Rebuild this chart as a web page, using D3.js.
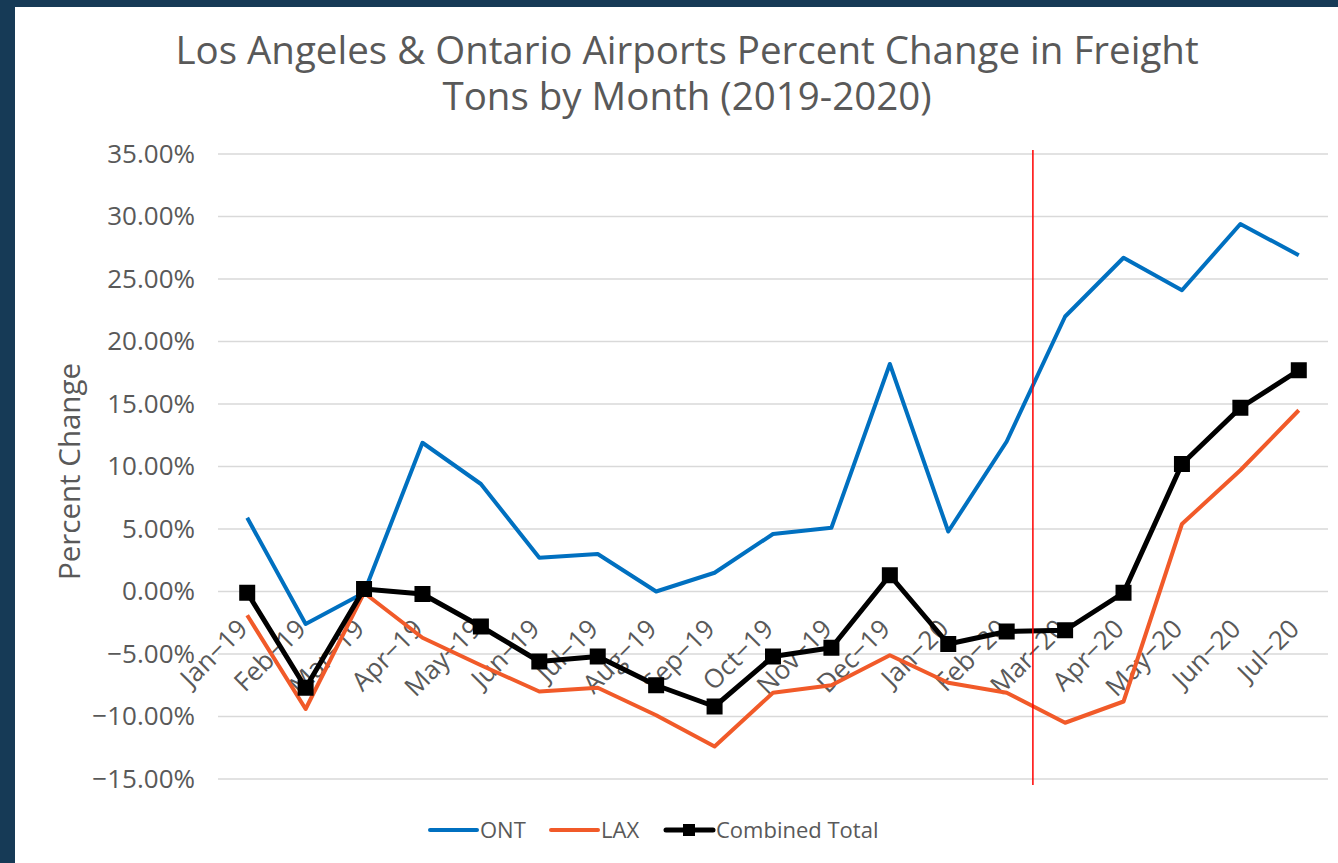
<!DOCTYPE html>
<html>
<head>
<meta charset="utf-8">
<script src="https://cdn.jsdelivr.net/npm/d3@7"></script>
<style>
  html, body { margin: 0; padding: 0; background: #163a56; }
  #chart-container { position: absolute; left: 15px; top: 7px; width: 1323px; height: 856px; background: #fff; }
  svg { display: block; font-family: "Open Sans", sans-serif; }
</style>
</head>
<body>
<div id="chart-container"></div>
<script>
const months = ["Jan-19", "Feb-19", "Mar-19", "Apr-19", "May-19", "Jun-19", "Jul-19", "Aug-19", "Sep-19",
  "Oct-19", "Nov-19", "Dec-19", "Jan-20", "Feb-20", "Mar-20", "Apr-20", "May-20", "Jun-20", "Jul-20"];
const ont = [5.9, -2.6, -0.1, 11.9, 8.6, 2.7, 3.0, 0.0, 1.5, 4.6, 5.1, 18.2, 4.8, 12.0, 22.0, 26.7, 24.1, 29.4, 26.9];
const lax = [-1.9, -9.4, -0.1, -3.7, -5.9, -8.0, -7.7, -9.9, -12.4, -8.1, -7.5, -5.1, -7.3, -8.1, -10.5, -8.8, 5.4, 9.7, 14.5];
const combined = [-0.1, -7.7, 0.2, -0.2, -2.8, -5.6, -5.2, -7.5, -9.2, -5.2, -4.5, 1.3, -4.2, -3.2, -3.1, -0.1, 10.2, 14.7, 17.7];
const yTicks = [-15, -10, -5, 0, 5, 10, 15, 20, 25, 30, 35];
const markerMonth = "Mar-20";

const series = [
  { name: "ONT", values: ont, color: "#0070c0", width: 4, marker: false },
  { name: "LAX", values: lax, color: "#f15a29", width: 4, marker: false },
  { name: "Combined Total", values: combined, color: "#000000", width: 5, marker: true },
];

function chart() {
  const margin = { top: 147, right: 10, bottom: 84, left: 203 };
  const width = 1323 - margin.left - margin.right;
  const height = 856 - margin.top - margin.bottom;
  const textColor = "#595959";

  const root = d3.select("#chart-container").append("svg")
    .attr("width", 1323).attr("height", 856);

  root.append("text")
    .attr("x", 672).attr("y", 57)
    .attr("text-anchor", "middle")
    .attr("fill", textColor)
    .style("font-size", "38.5px")
    .selectAll("tspan")
    .data(["Los Angeles & Ontario Airports Percent Change in Freight", "Tons by Month (2019-2020)"])
    .join("tspan")
    .attr("x", 672)
    .attr("dy", (d, i) => (i ? 46 : 0))
    .text(d => d);

  const svg = root.append("g").attr("transform", `translate(${margin.left},${margin.top})`);

  const x = d3.scaleBand().domain(months).range([0, width]);
  const y = d3.scaleLinear().domain([-15, 35]).range([height, 0]);
  const cx = d => x(d) + x.bandwidth() / 2;

  // grid
  svg.append("g").selectAll("line").data(yTicks).join("line")
    .attr("x1", 0).attr("x2", width)
    .attr("y1", d => y(d)).attr("y2", d => y(d))
    .attr("stroke", "#d9d9d9").attr("stroke-width", 1.5);

  const yAxis = svg.append("g").call(
    d3.axisLeft(y).tickValues(yTicks).tickSize(0).tickPadding(23)
      .tickFormat(d => (d < 0 ? "\u2212" : "") + Math.abs(d).toFixed(2) + "%")
  );
  yAxis.select(".domain").remove();
  yAxis.selectAll("text").attr("fill", textColor).style("font-size", "26px")
    .style("font-family", "Open Sans, sans-serif");

  root.append("text")
    .attr("transform", `translate(${margin.left - 138},${margin.top + height / 2 + 5}) rotate(-90)`)
    .attr("text-anchor", "middle")
    .attr("fill", textColor)
    .style("font-size", "29.5px")
    .text("Percent Change");

  // x labels hang from the zero line
  svg.append("g").selectAll("text").data(months).join("text")
    .attr("transform", d => `translate(${cx(d) + 2},${y(0) + 39}) rotate(-45)`)
    .attr("text-anchor", "end")
    .attr("fill", textColor)
    .style("font-size", "26px")
    .text(d => d.replace("-", "\u2212"));

  const line = d3.line().x((d, i) => cx(months[i])).y(d => y(d));

  series.forEach(s => {
    svg.append("path").datum(s.values)
      .attr("fill", "none")
      .attr("stroke", s.color)
      .attr("stroke-width", s.width)
      .attr("stroke-linejoin", "round")
      .attr("d", line);
    if (s.marker) {
      svg.append("g").selectAll("rect").data(s.values).join("rect")
        .attr("x", (d, i) => cx(months[i]) - 8)
        .attr("y", d => y(d) - 8)
        .attr("width", 16).attr("height", 16)
        .attr("fill", s.color);
    }
  });

  // vertical marker line
  const vx = x(markerMonth) - 3;
  svg.append("line")
    .attr("x1", vx).attr("x2", vx)
    .attr("y1", -4).attr("y2", height + 6)
    .attr("stroke", "#ff0000").attr("stroke-width", 1.5);

  // legend
  const legendItems = [
    { s: series[0], x: 415 },
    { s: series[1], x: 536 },
    { s: series[2], x: 651 },
  ];
  const legend = root.append("g").attr("transform", "translate(0,823)");
  legendItems.forEach(item => {
    const g = legend.append("g").attr("transform", `translate(${item.x},0)`);
    g.append("line").attr("x1", 0).attr("x2", 47).attr("y1", 0).attr("y2", 0)
      .attr("stroke", item.s.color).attr("stroke-width", item.s.width).attr("stroke-linecap", "round");
    if (item.s.marker) {
      g.append("rect").attr("x", 17).attr("y", -6).attr("width", 12).attr("height", 12).attr("fill", item.s.color);
    }
    g.append("text").attr("x", 50).attr("y", 0).attr("dy", "0.35em")
      .attr("fill", textColor).style("font-size", "22px").text(item.s.name);
  });
}

chart();
</script>
</body>
</html>
